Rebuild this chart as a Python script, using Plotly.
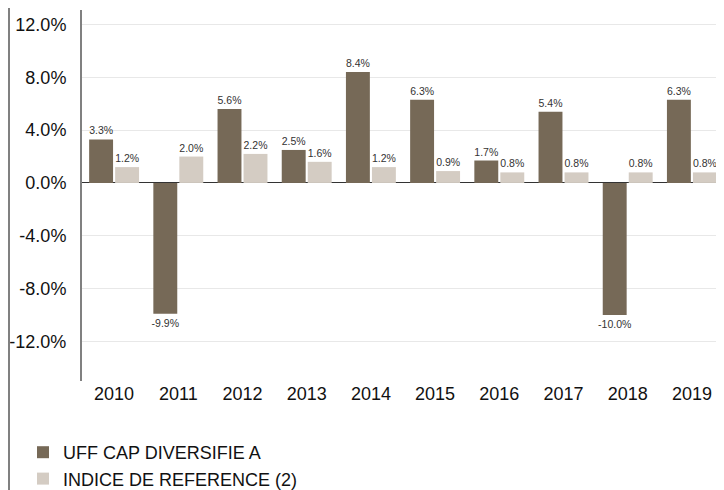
import plotly.graph_objects as go

years = ["2010", "2011", "2012", "2013", "2014", "2015", "2016", "2017", "2018", "2019"]
fund_name = "UFF CAP DIVERSIFIE A"
index_name = "INDICE DE REFERENCE (2)"
fund_values = [3.3, -9.9, 5.6, 2.5, 8.4, 6.3, 1.7, 5.4, -10.0, 6.3]
index_values = [1.2, 2.0, 2.2, 1.6, 1.2, 0.9, 0.8, 0.8, 0.8, 0.8]
y_ticks = [-12, -8, -4, 0, 4, 8, 12]

FONT = "Liberation Sans, Arial, sans-serif"
W, H = 716, 482
L, R, T, B = 74, 0, 2, 109
PW, PH = W - L - R, H - T - B

fig = go.Figure()
for name, vals, color in [(fund_name, fund_values, "#766957"), (index_name, index_values, "#d4ccc3")]:
    fig.add_trace(go.Bar(
        x=years, y=vals, name=name, marker=dict(color=color, line=dict(width=0)),
        texttemplate="%{y:.1f}%", textposition="outside", constraintext="none",
        cliponaxis=False, textfont=dict(size=10.5, color="#333333", family=FONT),
        hoverinfo="skip",
    ))

fig.update_layout(
    width=W, height=H,
    margin=dict(l=L, r=R, t=T, b=B, autoexpand=False),
    paper_bgcolor="white", plot_bgcolor="white",
    barmode="group", bargap=0.19, bargroupgap=0.08,
    font=dict(family=FONT, size=18, color="#111111"),
    showlegend=True,
    legend=dict(
        orientation="v", xref="container", yref="container",
        x=15 / W, y=1 - 426 / H, xanchor="left", yanchor="top",
        font=dict(size=18, color="#111111"), tracegroupgap=0,
        traceorder="normal",
    ),
    xaxis=dict(
        showgrid=False, showline=False, ticks="", tickfont=dict(size=18),
    ),
    yaxis=dict(
        range=[-15, 13.1], tickvals=y_ticks,
        ticktext=[f"{v:.1f}%" for v in y_ticks],
        showgrid=True, gridcolor="#e8e8e8", gridwidth=1,
        zeroline=True, zerolinecolor="#333333", zerolinewidth=1,
        showline=True, linecolor="#808080", linewidth=2,
        ticks="", ticklabelstandoff=10, tickfont=dict(size=18),
    ),
    shapes=[dict(
        type="line", xref="paper", yref="paper",
        x0=(1 - L) / PW, x1=(1 - L) / PW, y0=-B / PH, y1=1 + T / PH,
        line=dict(color="#808080", width=2),
    )],
)

fig.write_html("out.html")
